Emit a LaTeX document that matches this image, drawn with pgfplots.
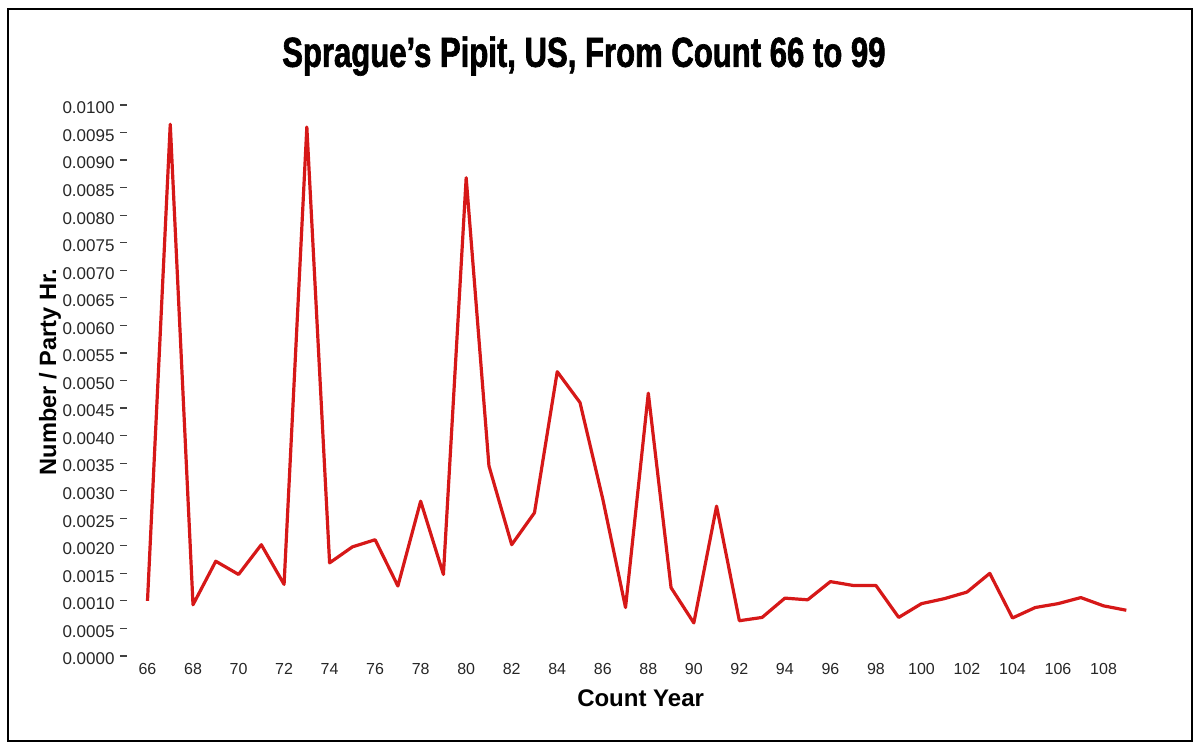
\documentclass[border=0pt]{standalone}
\usepackage{fontspec}
\setmainfont{Liberation Sans}
\newfontfamily\titlefont[FakeStretch=0.74,FakeBold=1.5]{Liberation Sans Bold}
\usepackage{pgfplots}
\pgfplotsset{compat=1.18}
\definecolor{linered}{RGB}{214,24,24}

\begin{document}
\begin{tikzpicture}
\useasboundingbox (0,0) rectangle (598pt,372pt);
\draw[line width=1.4pt] (4pt,1.5pt) rectangle (596pt,367.5pt);
\begin{axis}[
  at={(63.5pt,44pt)}, anchor=south west,
  scale only axis, width=506.5pt, height=275.5pt,
  xmin=65.1, xmax=109.6, ymin=0, ymax=0.01,
  axis line style={draw=none},
  xtick={66,68,...,108},
  ytick={0,0.0005,0.001,0.0015,0.002,0.0025,0.003,0.0035,0.004,0.0045,0.005,0.0055,0.006,0.0065,0.007,0.0075,0.008,0.0085,0.009,0.0095,0.01},
  ytick pos=left,
  xtick pos=bottom,
  scaled y ticks=false,
  yticklabel style={/pgf/number format/fixed, /pgf/number format/fixed zerofill, /pgf/number format/precision=4, /pgf/number format/assume math mode=true, font=\fontsize{8.5}{10}\selectfont, text=black!85, yshift=-1.5pt, xshift=0.8pt},
  xticklabel style={/pgf/number format/assume math mode=true, font=\fontsize{8}{9.6}\selectfont, text=black!85, yshift=3.5pt},
  tick align=outside,
  major tick length=3.5pt,
  xtick style={draw=none},
  ytick style={black!75, line width=0.6pt},
  title={Sprague’s Pipit, US, From Count 66 to 99},
  title style={at={(axis description cs:0.451,1.067)}, anchor=center, font=\titlefont\fontsize{21}{24}\selectfont},
  xlabel={Count Year},
  xlabel style={at={(axis description cs:0.507,-0.076)}, anchor=center, font=\bfseries\fontsize{12}{14}\selectfont},
  ylabel={Number / Party Hr.},
  ylabel style={at={(axis description cs:-0.076,0.515)}, anchor=center, font=\bfseries\fontsize{11.8}{14}\selectfont},
]
\addplot[linered, line width=1.6pt, line join=round] coordinates {
(66,0.00100) (67,0.00965) (68,0.00093) (69,0.00172) (70,0.00148)
(71,0.00202) (72,0.00130) (73,0.00960) (74,0.00169) (75,0.00198)
(76,0.00211) (77,0.00127) (78,0.00281) (79,0.00148) (80,0.00868)
(81,0.00345) (82,0.00202) (83,0.00260) (84,0.00516) (85,0.00460)
(86,0.00285) (87,0.00088) (88,0.00477) (89,0.00124) (90,0.00060)
(91,0.00272) (92,0.00064) (93,0.00070) (94,0.00105) (95,0.00102)
(96,0.00135) (97,0.00128) (98,0.00128) (99,0.00070) (100,0.00095)
(101,0.00104) (102,0.00116) (103,0.00150) (104,0.00069) (105,0.00088)
(106,0.00095) (107,0.00106) (108,0.00091) (109,0.00083)
};
\end{axis}
\end{tikzpicture}
\end{document}
